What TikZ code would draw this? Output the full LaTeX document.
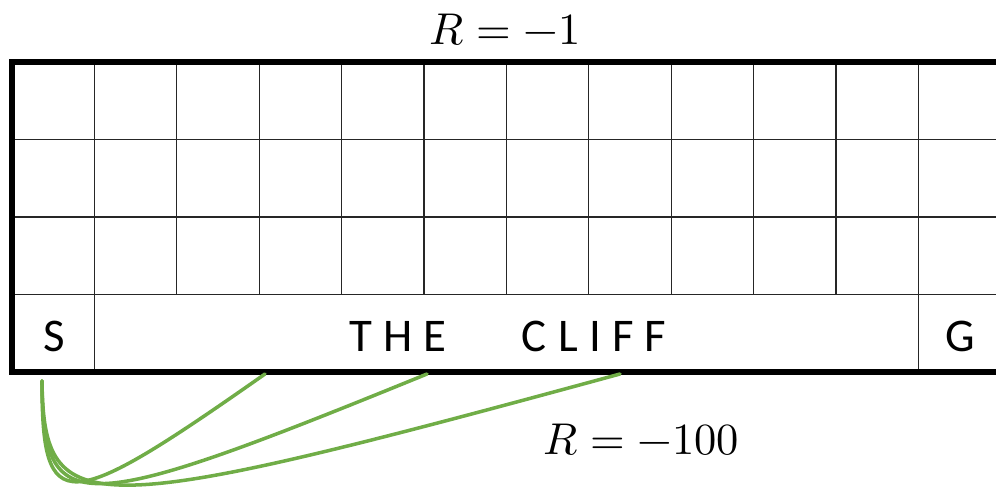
\documentclass[tikz,border=0pt]{standalone}
\usepackage{fontspec}
\usepackage{unicode-math}
\setmainfont{Carlito}
\setmathfont{Latin Modern Math}
\usepackage{xcolor}
\definecolor{CliffGreen}{HTML}{70AD47}
\usepackage{tikz}
\usetikzlibrary{calc, positioning}

\begin{document}
\begin{tikzpicture}[x=0.03cm, y=-0.03cm]
    \tikzset{
  gridline/.style={black!85, line width=1.1pt},
  borderline/.style={black, line width=5pt},
  pathline/.style={CliffGreen, line width=3pt, line cap=round},
  celllab/.style={font=\fontsize{40}{44}\selectfont, inner sep=0},
  cliflab/.style={font=\fontsize{40}{44}\selectfont\addfontfeature{LetterSpace=24}, inner sep=0},
  rewlab/.style={font=\fontsize{38}{42}\selectfont, inner sep=0},
}
% ── Canvas (right edge of the grid is cut off) ─────────────
\clip (0,0) rectangle (996,489);

% ── Grid: 12 columns x 4 rows ───────────────────────────────
\foreach \r in {139.5, 217, 294.5}
  \draw[gridline] (12,\r) -- (1001,\r);
\foreach \i in {1,...,11}
  \draw[gridline] ({12+82.4*\i},62) -- ({12+82.4*\i},294.5);
% bottom row: start cell, cliff, goal cell
\draw[gridline] (94.4,294.5) -- (94.4,372);
\draw[gridline] (918.4,294.5) -- (918.4,372);

% Outer border
\draw[borderline] (1001,62) -- (12,62) -- (12,372) -- (1001,372);

% ── Labels ──────────────────────────────────────────────────
\node[celllab] (start) at (54,336) {S};
\node[celllab] (goal) at (960,336) {G};
\node[cliflab] (cliff) at (508,336) {THE\hspace{1.6em}CLIFF};

\node[rewlab] (step) at (505,30) {$R=-1$};
\node[rewlab] (fall) at (641,440) {$R=-100$};

% ── Paths falling into the cliff ────────────────────────────
\coordinate (s) at (42,381);
\coordinate (c1) at (265,374);
\coordinate (c2) at (427,374);
\coordinate (c3) at (620,374);

\draw[pathline] (s) .. controls (42,518) and (64,515) .. (c1);
\draw[pathline] (s) .. controls (43,520) and (74,518) .. (c2);
\draw[pathline] (s) .. controls (44,522) and (84,520) .. (c3);

  \end{tikzpicture}
\end{document}
